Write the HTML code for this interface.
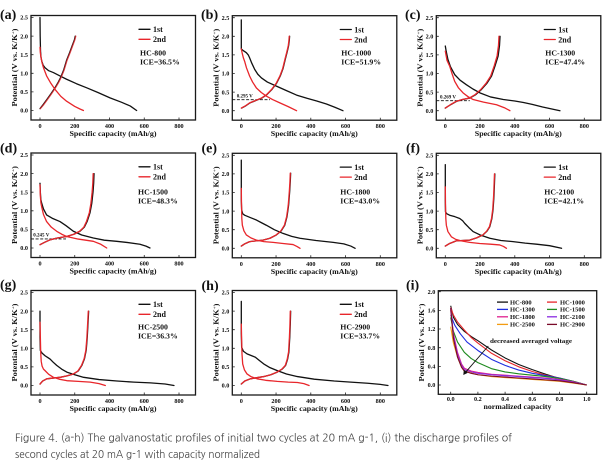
<!DOCTYPE html>
<html><head><meta charset="utf-8"><style>
html,body{margin:0;padding:0;background:#fff;width:609px;height:469px;overflow:hidden}
svg{display:block}
.t{font-family:"Liberation Serif",serif;font-weight:bold;fill:#111}
.yt{font-size:6.2px;text-anchor:end}
.xt{font-size:6.2px;text-anchor:middle}
.ttl{font-size:7.6px;text-anchor:middle}
.lab{font-size:14px}
.lg{font-size:8px}
.hc{font-size:7.8px}
.dv{font-size:5px}
.k{fill:none;stroke:#111;stroke-width:1.3;stroke-linejoin:round;stroke-linecap:round}
.r{fill:none;stroke:#e8262b;stroke-width:1.3;stroke-linejoin:round;stroke-linecap:round}
.box{fill:none;stroke:#1a1a1a;stroke-width:1.3}
.tk{stroke:#222;stroke-width:0.8}
.cap{font-family:"NanumGothic","Liberation Sans",sans-serif;font-size:11px;fill:#444}
</style></head><body>
<svg width="609" height="469" viewBox="0 0 609 469" xmlns="http://www.w3.org/2000/svg">
<defs>
<g id="frame">
<rect class="box" x="0" y="0" width="164.5" height="104.5"/>
<path class="tk" d="M9,104.5V102M43.75,104.5V102M78.5,104.5V102M113.25,104.5V102M148,104.5V102M0,95H2.5M0,76.4H2.5M0,57.8H2.5M0,39.2H2.5M0,20.6H2.5M0,2H2.5"/>
<g class="t yt"><text x="-3" y="97.2">0.0</text><text x="-3" y="78.6">0.5</text><text x="-3" y="60">1.0</text><text x="-3" y="41.4">1.5</text><text x="-3" y="22.8">2.0</text><text x="-3" y="4.2">2.5</text></g>
<g class="t xt"><text x="9" y="112.5">0</text><text x="43.75" y="112.5">200</text><text x="78.5" y="112.5">400</text><text x="113.25" y="112.5">600</text><text x="148" y="112.5">800</text></g>
<text class="t ttl" x="82" y="120.5" textLength="87" lengthAdjust="spacingAndGlyphs">Specific capacity (mAh/g)</text>
<text class="t ttl" transform="translate(-13.8,52) rotate(-90)" style="font-size:7.2px" textLength="78" lengthAdjust="spacingAndGlyphs">Potential (V vs. K/K<tspan dy="-2.5" style="font-size:4.5px">+</tspan><tspan dy="2.5">)</tspan></text>
<path class="k" d="M108,13.8H119"/>
<path class="r" d="M108,23.8H119"/>
<text class="t lg" x="122" y="16.6">1st</text>
<text class="t lg" x="122" y="26.6">2nd</text>
</g>
</defs>

<!-- (a) -->
<text class="t lab" x="0" y="19">(a)</text>
<g transform="translate(31,15.5)">
<use href="#frame"/>
<text class="t hc" x="109" y="39.8">HC-800</text>
<text class="t hc" x="109" y="48.8">ICE=36.5%</text>
<g transform="translate(9,95) scale(0.17375,-37.2)">
<path class="k" vector-effect="non-scaling-stroke" d="M0,2.5 L1,2.0 L3,1.6 L6,1.42 L10,1.33 L18,1.22 L29,1.15 L50,1.07 L77,1.02 L115,0.93 L153,0.84 L210,0.72 L269,0.61 L335,0.48 L403,0.34 L470,0.22 L520,0.12 L556,0"/>
<path class="k" vector-effect="non-scaling-stroke" d="M0,0.05 L20,0.17 L40,0.3 L63,0.45 L86,0.61 L105,0.76 L120,0.9 L137,1.1 L153,1.35 L170,1.55 L186,1.75 L198,1.9 L203,2.0"/>
<path class="r" vector-effect="non-scaling-stroke" d="M0,1.7 L2,1.55 L5,1.45 L12,1.28 L20,1.15 L38,0.93 L60,0.75 L86,0.57 L120,0.38 L153,0.25 L200,0.11 L230,0.04 L250,0"/>
<path class="r" vector-effect="non-scaling-stroke" style="opacity:0.75" d="M2,0.05 L22,0.16 L42,0.29 L65,0.44 L88,0.6 L107,0.75 L122,0.89 L139,1.09 L155,1.34 L172,1.54 L188,1.74 L200,1.89 L206,2.0"/>
</g>
</g>

<!-- (b) -->
<text class="t lab" x="201" y="19">(b)</text>
<g transform="translate(232.3,15.7)">
<use href="#frame"/>
<text class="t hc" x="109" y="39.8">HC-1000</text>
<text class="t hc" x="109" y="48.8">ICE=51.9%</text>
<path d="M0,84H37.7" stroke="#111" stroke-width="0.9" stroke-dasharray="3,1.6" fill="none"/>
<text class="t dv" x="4.4" y="82">0.295 V</text>
<g transform="translate(9,95) scale(0.17375,-37.2)">
<path class="k" vector-effect="non-scaling-stroke" d="M0,2.44 L0,1.66 L10,1.62 L29,1.56 L40,1.5 L48,1.42 L60,1.28 L77,1.11 L95,0.98 L116,0.88 L150,0.77 L202,0.66 L260,0.54 L318,0.42 L380,0.33 L434,0.26 L490,0.18 L540,0.09 L585,0"/>
<path class="k" vector-effect="non-scaling-stroke" d="M2,0.07 L22,0.12 L50,0.21 L82,0.27 L118,0.34 L147,0.43 L176,0.57 L202,0.73 L224,0.93 L240,1.13 L253,1.38 L264,1.58 L272,1.74 L276,1.88 L278,2.0"/>
<path class="r" vector-effect="non-scaling-stroke" d="M0,1.66 L5,1.55 L12,1.42 L19,1.33 L30,1.15 L48,0.93 L65,0.77 L87,0.61 L115,0.49 L145,0.39 L180,0.30 L222,0.21 L270,0.11 L318,0"/>
<path class="r" vector-effect="non-scaling-stroke" d="M0,0.07 L20,0.12 L48,0.21 L80,0.27 L116,0.34 L145,0.43 L174,0.57 L200,0.73 L222,0.93 L238,1.13 L251,1.38 L262,1.58 L270,1.74 L274,1.88 L276,2.0"/>
</g>
</g>

<!-- (c) -->
<text class="t lab" x="405" y="19">(c)</text>
<g transform="translate(436.3,15.7)">
<use href="#frame"/>
<text class="t hc" x="109" y="39.8">HC-1300</text>
<text class="t hc" x="109" y="48.8">ICE=47.4%</text>
<path d="M0,85H33.5" stroke="#111" stroke-width="0.9" stroke-dasharray="3,1.6" fill="none"/>
<text class="t dv" x="3.7" y="83">0.269 V</text>
<g transform="translate(9,95) scale(0.17375,-37.2)">
<path class="k" vector-effect="non-scaling-stroke" d="M0,1.74 L5,1.6 L15,1.38 L30,1.18 L54,0.97 L85,0.82 L121,0.70 L160,0.58 L199,0.48 L260,0.37 L334,0.30 L400,0.26 L450,0.22 L500,0.17 L560,0.10 L620,0.04 L660,0"/>
<path class="k" vector-effect="non-scaling-stroke" d="M0,0.07 L30,0.16 L64,0.25 L100,0.30 L141,0.34 L175,0.43 L208,0.57 L240,0.74 L266,0.93 L286,1.2 L304,1.47 L312,1.75 L315,2.0"/>
<path class="r" vector-effect="non-scaling-stroke" d="M0,1.6 L10,1.35 L25,1.2 L40,0.98 L54,0.79 L75,0.62 L102,0.48 L130,0.38 L160,0.30 L220,0.23 L295,0.16 L340,0.08 L372,0"/>
<path class="r" vector-effect="non-scaling-stroke" d="M0,0.07 L29,0.16 L62,0.25 L98,0.30 L138,0.34 L171,0.43 L204,0.57 L235,0.74 L261,0.93 L281,1.2 L298,1.47 L306,1.75 L309,2.0"/>
</g>
</g>

<!-- (d) -->
<text class="t lab" x="0" y="152.5">(d)</text>
<g transform="translate(31,153)">
<use href="#frame"/>
<text class="t hc" x="107" y="41.3">HC-1500</text>
<text class="t hc" x="107" y="50.5">ICE=48.3%</text>
<path d="M0,85.9H35" stroke="#111" stroke-width="0.9" stroke-dasharray="3,1.6" fill="none"/>
<text class="t dv" x="2.3" y="83.5">0.245 V</text>
<g transform="translate(9,95) scale(0.17375,-37.2)">
<path class="k" vector-effect="non-scaling-stroke" d="M0,1.74 L2,1.5 L5,1.3 L10,1.2 L20,1.05 L38,0.89 L70,0.80 L115,0.71 L150,0.6 L192,0.45 L240,0.35 L307,0.27 L370,0.21 L441,0.18 L500,0.15 L575,0.10 L610,0.05 L633,0"/>
<path class="k" vector-effect="non-scaling-stroke" d="M0,0.09 L25,0.15 L58,0.22 L100,0.27 L153,0.31 L195,0.37 L230,0.45 L255,0.56 L272,0.72 L288,0.95 L298,1.2 L305,1.5 L309,1.75 L311,2.0"/>
<path class="r" vector-effect="non-scaling-stroke" d="M0,1.7 L2,1.4 L5,1.22 L10,1.1 L20,0.9 L38,0.71 L65,0.56 L96,0.45 L125,0.37 L153,0.31 L220,0.24 L307,0.18 L350,0.10 L384,0"/>
<path class="r" vector-effect="non-scaling-stroke" d="M0,0.09 L25,0.15 L58,0.22 L100,0.27 L153,0.31 L195,0.37 L228,0.45 L252,0.56 L268,0.72 L284,0.95 L293,1.2 L300,1.5 L304,1.75 L306,2.0"/>
</g>
</g>

<!-- (e) -->
<text class="t lab" x="201.5" y="152.5">(e)</text>
<g transform="translate(232.3,153.3)">
<use href="#frame"/>
<text class="t hc" x="108" y="41">HC-1800</text>
<text class="t hc" x="108" y="50.2">ICE=43.0%</text>
<g transform="translate(9,95) scale(0.17375,-37.2)">
<path class="k" vector-effect="non-scaling-stroke" d="M0,2.37 L0,1.3 L2,1.03 L8,0.93 L19,0.89 L50,0.83 L87,0.76 L115,0.69 L144,0.62 L190,0.50 L240,0.40 L290,0.32 L337,0.27 L430,0.21 L529,0.16 L590,0.12 L630,0.06 L655,0"/>
<path class="k" vector-effect="non-scaling-stroke" d="M0,0.06 L20,0.12 L48,0.18 L85,0.20 L125,0.22 L165,0.27 L202,0.36 L230,0.47 L250,0.62 L263,0.85 L272,1.15 L278,1.5 L282,1.8 L284,2.02"/>
<path class="r" vector-effect="non-scaling-stroke" d="M0,1.61 L1,1.2 L3,0.8 L6,0.62 L15,0.47 L29,0.36 L55,0.28 L87,0.22 L130,0.18 L183,0.16 L240,0.13 L298,0.10 L320,0.05 L338,0"/>
<path class="r" vector-effect="non-scaling-stroke" d="M0,0.06 L20,0.12 L48,0.18 L85,0.20 L125,0.22 L165,0.27 L201,0.36 L228,0.47 L248,0.62 L261,0.85 L270,1.15 L276,1.5 L280,1.8 L282,2.02"/>
</g>
</g>

<!-- (f) -->
<text class="t lab" x="406" y="152.5">(f)</text>
<g transform="translate(436.3,153.3)">
<use href="#frame"/>
<text class="t hc" x="108" y="41">HC-2100</text>
<text class="t hc" x="108" y="50.2">ICE=42.1%</text>
<g transform="translate(9,95) scale(0.17375,-37.2)">
<path class="k" vector-effect="non-scaling-stroke" d="M0,2.25 L0,1.3 L1,0.98 L8,0.93 L25,0.89 L55,0.85 L83,0.80 L100,0.74 L112,0.67 L135,0.56 L160,0.45 L205,0.35 L256,0.27 L320,0.21 L390,0.18 L460,0.14 L525,0.11 L600,0.07 L669,0"/>
<path class="k" vector-effect="non-scaling-stroke" d="M0,0.06 L25,0.13 L63,0.2 L100,0.21 L140,0.22 L180,0.28 L217,0.36 L240,0.46 L256,0.58 L268,0.8 L275,1.05 L280,1.4 L283,1.75 L285,2.0"/>
<path class="r" vector-effect="non-scaling-stroke" d="M0,1.65 L1,1.2 L3,0.8 L6,0.62 L15,0.45 L35,0.31 L60,0.24 L92,0.20 L140,0.16 L198,0.13 L260,0.11 L313,0.09 L335,0.05 L352,0"/>
<path class="r" vector-effect="non-scaling-stroke" d="M0,0.06 L25,0.13 L63,0.2 L100,0.21 L140,0.22 L180,0.28 L216,0.36 L238,0.46 L254,0.58 L266,0.8 L273,1.05 L278,1.4 L281,1.75 L283,2.0"/>
</g>
</g>

<!-- (g) -->
<text class="t lab" x="0" y="289">(g)</text>
<g transform="translate(31,290.5)">
<use href="#frame"/>
<text class="t hc" x="107" y="38.8">HC-2500</text>
<text class="t hc" x="107" y="48">ICE=36.3%</text>
<g transform="translate(9,95) scale(0.17375,-37.2)">
<path class="k" vector-effect="non-scaling-stroke" d="M0,2.0 L0,1.3 L2,0.94 L12,0.87 L29,0.80 L45,0.75 L58,0.71 L75,0.63 L96,0.54 L125,0.44 L154,0.36 L200,0.29 L251,0.22 L340,0.16 L443,0.12 L540,0.09 L636,0.07 L720,0.04 L771,0"/>
<path class="k" vector-effect="non-scaling-stroke" d="M0,0.04 L15,0.12 L39,0.18 L75,0.20 L116,0.22 L155,0.26 L193,0.31 L220,0.39 L241,0.54 L256,0.72 L266,0.95 L272,1.3 L276,1.65 L280,2.0"/>
<path class="r" vector-effect="non-scaling-stroke" d="M0,1.7 L2,1.3 L4,0.9 L7,0.65 L12,0.52 L20,0.44 L29,0.40 L50,0.30 L77,0.22 L110,0.17 L154,0.13 L220,0.11 L289,0.09 L340,0.05 L376,0"/>
<path class="r" vector-effect="non-scaling-stroke" d="M0,0.04 L15,0.12 L39,0.18 L75,0.20 L116,0.22 L155,0.26 L192,0.31 L218,0.39 L239,0.54 L254,0.72 L264,0.95 L270,1.3 L274,1.65 L278,2.0"/>
</g>
</g>

<!-- (h) -->
<text class="t lab" x="201.5" y="290">(h)</text>
<g transform="translate(232.3,290.5)">
<use href="#frame"/>
<text class="t hc" x="108" y="38.8">HC-2900</text>
<text class="t hc" x="108" y="48">ICE=33.7%</text>
<g transform="translate(9,95) scale(0.17375,-37.2)">
<path class="k" vector-effect="non-scaling-stroke" d="M0,2.26 L0,1.4 L2,1.03 L12,0.92 L33,0.85 L60,0.80 L81,0.76 L105,0.67 L129,0.58 L165,0.48 L207,0.40 L260,0.31 L323,0.24 L420,0.17 L535,0.12 L630,0.09 L728,0.06 L800,0.03 L844,0"/>
<path class="k" vector-effect="non-scaling-stroke" d="M0,0.04 L20,0.12 L52,0.18 L90,0.21 L129,0.24 L170,0.29 L207,0.36 L235,0.44 L255,0.54 L266,0.7 L274,0.9 L279,1.3 L282,1.65 L284,2.0"/>
<path class="r" vector-effect="non-scaling-stroke" d="M0,1.65 L2,1.2 L4,0.85 L8,0.58 L18,0.42 L33,0.31 L55,0.24 L91,0.18 L140,0.14 L207,0.11 L270,0.09 L323,0.08 L360,0.05 L390,0"/>
<path class="r" vector-effect="non-scaling-stroke" d="M0,0.04 L20,0.12 L52,0.18 L90,0.21 L129,0.24 L170,0.29 L206,0.36 L233,0.44 L253,0.54 L264,0.7 L272,0.9 L277,1.3 L280,1.65 L282,2.0"/>
</g>
</g>

<!-- (i) -->
<text class="t lab" x="406" y="289.5">(i)</text>
<g transform="translate(438.3,290.7)">
<rect class="box" x="0" y="0" width="158.4" height="103.6"/>
<path class="tk" d="M12.4,103.6V101M39.6,103.6V101M66.8,103.6V101M94,103.6V101M121.2,103.6V101M148.4,103.6V101M0,94.3H2.5M0,75.64H2.5M0,56.98H2.5M0,38.32H2.5M0,19.66H2.5M0,1H2.5"/>
<g class="t yt"><text x="-3" y="96.5">0.0</text><text x="-3" y="77.8">0.4</text><text x="-3" y="59.2">0.8</text><text x="-3" y="40.5">1.2</text><text x="-3" y="21.9">1.6</text><text x="-3" y="3.2">2.0</text></g>
<g class="t xt"><text x="12.4" y="110.5">0.0</text><text x="39.6" y="110.5">0.2</text><text x="66.8" y="110.5">0.4</text><text x="94" y="110.5">0.6</text><text x="121.2" y="110.5">0.8</text><text x="148.4" y="110.5">1.0</text></g>
<text class="t ttl" x="79.2" y="118.3" textLength="68" lengthAdjust="spacingAndGlyphs">normalized capacity</text>
<text class="t ttl" transform="translate(-14.2,51.8) rotate(-90)" style="font-size:7.2px" textLength="78" lengthAdjust="spacingAndGlyphs">Potential (V vs. K/K<tspan dy="-2.5" style="font-size:4.5px">+</tspan><tspan dy="2.5">)</tspan></text>
<g style="font-size:6.5px" class="t">
<path d="M58.7,11.4H69.7" stroke="#111" stroke-width="1.3"/><text x="71.7" y="13.6">HC-800</text>
<path d="M108.7,11.4H118.7" stroke="#e8262b" stroke-width="1.3"/><text x="121.7" y="13.6">HC-1000</text>
<path d="M58.7,18.7H69.7" stroke="#1f2ee0" stroke-width="1.3"/><text x="71.7" y="20.9">HC-1300</text>
<path d="M108.7,18.7H118.7" stroke="#1e8a1e" stroke-width="1.3"/><text x="121.7" y="20.9">HC-1500</text>
<path d="M58.7,26.1H69.7" stroke="#e0208f" stroke-width="1.3"/><text x="71.7" y="28.3">HC-1800</text>
<path d="M108.7,26.1H118.7" stroke="#8a2be2" stroke-width="1.3"/><text x="121.7" y="28.3">HC-2100</text>
<path d="M58.7,33.7H69.7" stroke="#f39c12" stroke-width="1.3"/><text x="71.7" y="35.9">HC-2500</text>
<path d="M108.7,33.7H118.7" stroke="#7a0a2a" stroke-width="1.3"/><text x="121.7" y="35.9">HC-2900</text>
</g>
<g transform="translate(12.4,94.3) scale(136,-46.65)" fill="none" stroke-width="1.1" stroke-linejoin="round">
<path vector-effect="non-scaling-stroke" stroke="#111" d="M0,1.70 L0.02,1.45 L0.05,1.3 L0.1,1.15 L0.15,1.04 L0.2,0.95 L0.3,0.75 L0.4,0.58 L0.5,0.44 L0.6,0.33 L0.7,0.23 L0.8,0.14 L0.9,0.06 L1,0"/>
<path vector-effect="non-scaling-stroke" stroke="#e8262b" d="M0,1.66 L0.02,1.5 L0.05,1.35 L0.1,1.18 L0.15,1.02 L0.2,0.9 L0.3,0.68 L0.4,0.52 L0.5,0.39 L0.6,0.29 L0.7,0.21 L0.8,0.15 L0.9,0.08 L1,0"/>
<path vector-effect="non-scaling-stroke" stroke="#1f2ee0" d="M0,1.5 L0.03,1.28 L0.07,1.1 L0.12,0.92 L0.2,0.74 L0.3,0.55 L0.4,0.42 L0.5,0.32 L0.6,0.25 L0.7,0.20 L0.8,0.15 L0.9,0.08 L1,0"/>
<path vector-effect="non-scaling-stroke" stroke="#1e8a1e" d="M0,1.45 L0.02,1.15 L0.05,0.92 L0.1,0.7 L0.15,0.57 L0.2,0.48 L0.3,0.35 L0.4,0.28 L0.5,0.24 L0.6,0.21 L0.7,0.18 L0.8,0.14 L0.9,0.08 L1,0"/>
<path vector-effect="non-scaling-stroke" stroke="#e0208f" d="M0,1.6 L0.02,1.1 L0.05,0.7 L0.08,0.45 L0.1,0.36 L0.15,0.3 L0.2,0.27 L0.3,0.23 L0.4,0.21 L0.5,0.19 L0.6,0.17 L0.7,0.15 L0.8,0.12 L0.9,0.07 L1,0"/>
<path vector-effect="non-scaling-stroke" stroke="#8a2be2" d="M0,1.65 L0.02,1.05 L0.05,0.65 L0.08,0.42 L0.1,0.33 L0.15,0.28 L0.2,0.25 L0.3,0.22 L0.4,0.2 L0.5,0.18 L0.6,0.16 L0.7,0.14 L0.8,0.11 L0.9,0.06 L1,0"/>
<path vector-effect="non-scaling-stroke" stroke="#f39c12" d="M0,1.25 L0.02,0.9 L0.05,0.6 L0.08,0.38 L0.1,0.3 L0.15,0.26 L0.2,0.22 L0.3,0.18 L0.4,0.16 L0.5,0.14 L0.6,0.12 L0.7,0.1 L0.8,0.08 L0.9,0.04 L1,0"/>
<path vector-effect="non-scaling-stroke" stroke="#7a0a2a" d="M0,1.65 L0.02,1.0 L0.05,0.6 L0.08,0.38 L0.1,0.3 L0.15,0.25 L0.2,0.22 L0.3,0.19 L0.4,0.17 L0.5,0.15 L0.6,0.13 L0.7,0.11 L0.8,0.09 L0.9,0.05 L1,0"/>
</g>
<path d="M50,55.3L26.5,82.5" stroke="#111" stroke-width="0.9" fill="none"/>
<path d="M25,84.3L25.6,78.9L29.4,82.2Z" fill="#111"/>
<text class="t" style="font-size:5.8px" x="51.7" y="52.3" textLength="82" lengthAdjust="spacingAndGlyphs">decreased averaged voltage</text>
</g>

<!-- caption -->
<text class="cap" x="15" y="441.5" textLength="497" lengthAdjust="spacingAndGlyphs">Figure 4. (a-h) The galvanostatic profiles of initial two cycles at 20 mA g-1, (i) the discharge profiles of</text>
<text class="cap" x="15" y="458" textLength="245" lengthAdjust="spacingAndGlyphs">second cycles at 20 mA g-1 with capacity normalized</text>
</svg>
</body></html>
